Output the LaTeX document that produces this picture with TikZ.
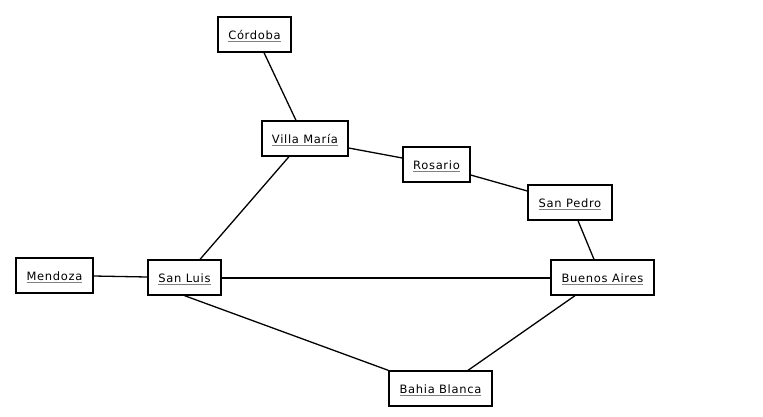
\documentclass[tikz,border=0pt]{standalone}
\usepackage{fontspec}
\setmainfont{DejaVu Sans}[LetterSpace=6]
\newcommand\ultext[1]{\leavevmode\vtop{\setbox0\hbox{#1}\dp0=0pt\box0\kern2pt{\color{gray}\hrule height 1.2pt}}}
\begin{document}
\begin{tikzpicture}[x=1pt,y=-1pt,
  city/.style={draw, line width=1.3pt, inner sep=0pt, minimum height=35pt, text height=13pt, text depth=4pt, font=\fontsize{11.5}{14}\selectfont},
  road/.style={line width=1.3pt}]
\useasboundingbox (0,0) rectangle (763,416);
\node[city, minimum width=73pt] (cor) at (254.5,34.5) {\ultext{Córdoba}};
\node[city, minimum width=86pt] (vm) at (305,138.5) {\ultext{Villa María}};
\node[city, minimum width=67pt] (ros) at (436.5,164.5) {\ultext{Rosario}};
\node[city, minimum width=84pt] (sp) at (570,202.5) {\ultext{San Pedro}};
\node[city, minimum width=77pt] (men) at (54.5,275.5) {\ultext{Mendoza}};
\node[city, minimum width=73pt] (sl) at (184.5,277.5) {\ultext{San Luis}};
\node[city, minimum width=103pt] (ba) at (602.5,277.5) {\ultext{Buenos Aires}};
\node[city, minimum width=103pt] (bb) at (440.5,388.5) {\ultext{Bahia Blanca}};
\draw[road] ([xshift=9.5pt]cor.south) -- ([xshift=-9pt]vm.north);
\draw[road] ([yshift=-9.5pt]vm.east) -- ([yshift=6.5pt]ros.west);
\draw[road] ([xshift=-16pt]vm.south) -- ([xshift=15.5pt]sl.north);
\draw[road] ([yshift=-10.5pt]ros.east) -- ([yshift=11.5pt]sp.west);
\draw[road] ([xshift=8pt]sp.south) -- ([xshift=-8.5pt]ba.north);
\draw[road] ([yshift=-0.5pt]men.east) -- ([yshift=0.5pt]sl.west);
\draw[road] ([yshift=-0.5pt]sl.east) -- ([yshift=-0.5pt]ba.west);
\draw[road] (sl.south) -- (bb.north west);
\draw[road] ([xshift=-27.5pt]ba.south) -- ([xshift=27.5pt]bb.north);
\end{tikzpicture}
\end{document}
